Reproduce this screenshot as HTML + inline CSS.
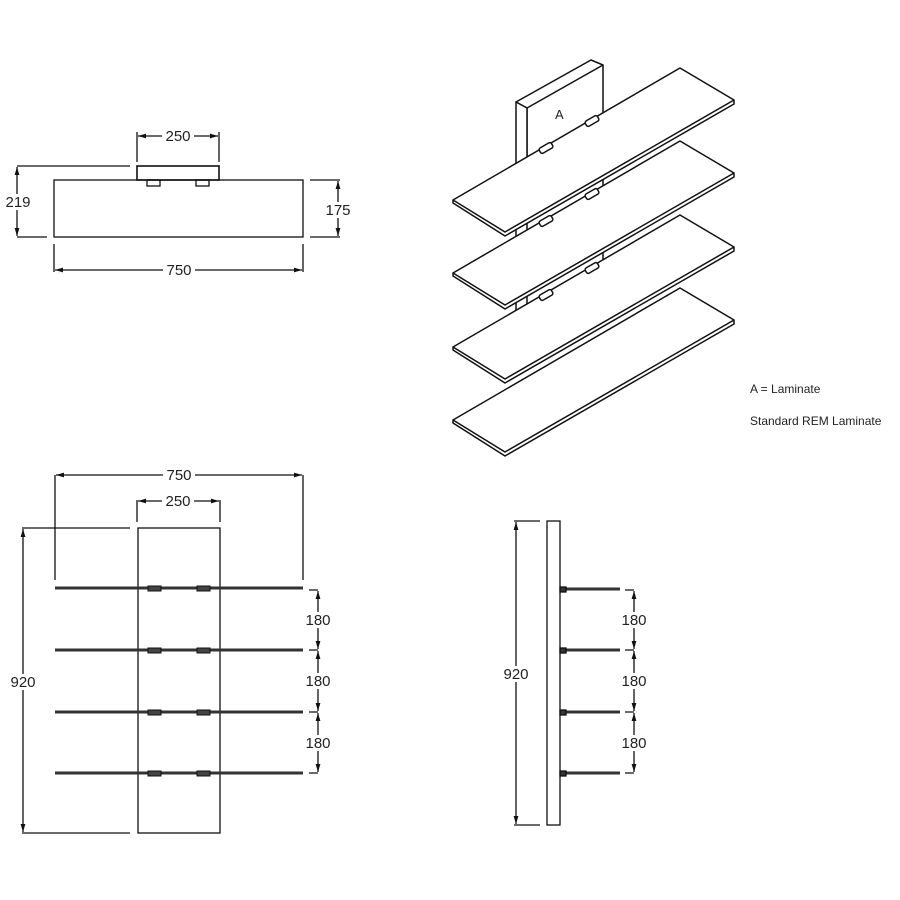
<!DOCTYPE html>
<html><head><meta charset="utf-8"><style>
html,body{margin:0;padding:0;background:#fff;}
svg{display:block;}
text{font-family:"Liberation Sans",sans-serif;fill:#222;}
</style></head><body>
<svg width="900" height="900" viewBox="0 0 900 900" xmlns="http://www.w3.org/2000/svg">
<defs>
<marker id="a" viewBox="0 0 10 6" refX="10" refY="3" markerWidth="8" markerHeight="5" orient="auto-start-reverse" markerUnits="userSpaceOnUse"><path d="M0,0 L10,3 L0,6z" fill="#111"/></marker>
<g id="br">
<rect x="539" y="145" width="14" height="6" rx="2" transform="rotate(-30 546 148)"/>
<rect x="585" y="118" width="14" height="6" rx="2" transform="rotate(-30 592 121)"/>
</g>
<path id="sh" d="M453,200 L505,232 L734,100 L680,68 Z M453,200 L453,203 L505,236 L734,104 L734,100"/>
</defs>
<g stroke="#111" stroke-width="1.3" fill="none">
<!-- TOP VIEW -->
<rect x="54" y="180" width="249" height="57"/>
<rect x="137" y="166" width="82" height="14" stroke-width="1.6"/>
<rect x="147" y="180" width="13" height="6"/>
<rect x="196" y="180" width="13" height="6"/>
<line x1="137" y1="132" x2="137" y2="162"/><line x1="219" y1="132" x2="219" y2="162"/>
<line x1="138" y1="136" x2="218" y2="136" marker-start="url(#a)" marker-end="url(#a)"/>
<line x1="17" y1="166" x2="130" y2="166"/><line x1="17" y1="237" x2="47" y2="237"/>
<line x1="17" y1="167" x2="17" y2="236" marker-start="url(#a)" marker-end="url(#a)"/>
<line x1="310" y1="180" x2="340" y2="180"/><line x1="310" y1="237" x2="340" y2="237"/>
<line x1="338" y1="181" x2="338" y2="236" marker-start="url(#a)" marker-end="url(#a)"/>
<line x1="54" y1="244" x2="54" y2="272"/><line x1="303" y1="244" x2="303" y2="272"/>
<line x1="55" y1="270" x2="302" y2="270" marker-start="url(#a)" marker-end="url(#a)"/>

<!-- FRONT VIEW -->
<rect x="138" y="528" width="82" height="305"/>
<line x1="55" y1="475" x2="55" y2="580"/><line x1="303" y1="475" x2="303" y2="580"/>
<line x1="56" y1="475" x2="302" y2="475" marker-start="url(#a)" marker-end="url(#a)"/>
<line x1="137" y1="500" x2="137" y2="522"/><line x1="220" y1="500" x2="220" y2="522"/>
<line x1="138" y1="501" x2="219" y2="501" marker-start="url(#a)" marker-end="url(#a)"/>
<line x1="22" y1="528" x2="130" y2="528"/><line x1="22" y1="833" x2="130" y2="833"/>
<line x1="23" y1="529" x2="23" y2="832" marker-start="url(#a)" marker-end="url(#a)"/>
<g stroke-width="3" stroke="#333">
<line x1="55" y1="588" x2="303" y2="588"/><line x1="55" y1="650" x2="303" y2="650"/>
<line x1="55" y1="712" x2="303" y2="712"/><line x1="55" y1="773" x2="303" y2="773"/>
</g>
<g stroke-width="1" fill="#444">
<rect x="148" y="586" width="13" height="5"/><rect x="197" y="586" width="13" height="5"/>
<rect x="148" y="648" width="13" height="5"/><rect x="197" y="648" width="13" height="5"/>
<rect x="148" y="710" width="13" height="5"/><rect x="197" y="710" width="13" height="5"/>
<rect x="148" y="771" width="13" height="5"/><rect x="197" y="771" width="13" height="5"/>
</g>
<path d="M309,590 H318 M309,650 H318 M309,712 H318 M309,773 H318"/>
<line x1="318" y1="591" x2="318" y2="649" marker-start="url(#a)" marker-end="url(#a)"/>
<line x1="318" y1="651" x2="318" y2="711" marker-start="url(#a)" marker-end="url(#a)"/>
<line x1="318" y1="713" x2="318" y2="772" marker-start="url(#a)" marker-end="url(#a)"/>

<!-- SIDE VIEW -->
<rect x="547" y="521" width="13" height="304"/>
<line x1="514" y1="521" x2="540" y2="521"/><line x1="514" y1="825" x2="540" y2="825"/>
<line x1="516" y1="522" x2="516" y2="824" marker-start="url(#a)" marker-end="url(#a)"/>
<g stroke-width="3" stroke="#333">
<line x1="560" y1="589" x2="620" y2="589"/><line x1="560" y1="650" x2="620" y2="650"/>
<line x1="560" y1="712" x2="620" y2="712"/><line x1="560" y1="773" x2="620" y2="773"/>
</g>
<g fill="#333"><rect x="560" y="587" width="6" height="5"/><rect x="560" y="648" width="6" height="5"/><rect x="560" y="710" width="6" height="5"/><rect x="560" y="771" width="6" height="5"/></g>
<path d="M625,590 H634 M625,650 H634 M625,712 H634 M625,773 H634"/>
<line x1="634" y1="591" x2="634" y2="649" marker-start="url(#a)" marker-end="url(#a)"/>
<line x1="634" y1="651" x2="634" y2="711" marker-start="url(#a)" marker-end="url(#a)"/>
<line x1="634" y1="713" x2="634" y2="772" marker-start="url(#a)" marker-end="url(#a)"/>
</g>

<!-- ISO VIEW -->
<g stroke="#111" stroke-width="1.5" fill="#fff" stroke-linejoin="round">
<g transform="translate(0,220)">
<use href="#sh"/>
</g>
<g transform="translate(0,147)">
<path d="M516,100 V164 M527,100 V158 M603,60 V113" fill="none"/>
<use href="#sh"/>
<use href="#br"/>
</g>
<g transform="translate(0,73)">
<path d="M516,100 V164 M527,100 V158 M603,60 V113" fill="none"/>
<use href="#sh"/>
<use href="#br"/>
</g>
<path d="M516,102 L591,60 L603,65 L603,113 L527,158 L527,108 Z"/>
<path d="M516,102 L527,108 L527,158 L516,164 Z"/>
<path d="M527,108 L603,65" fill="none"/>
<use href="#sh"/>
<use href="#br"/>
</g>
<text x="555" y="119" font-size="13">A</text>
<text x="750" y="393" font-size="12">A = Laminate</text>
<text x="750" y="425" font-size="12">Standard REM Laminate</text>

<!-- dimension labels -->
<g font-size="15" text-anchor="middle">
<rect x="162" y="128" width="32" height="16" fill="#fff"/><text x="178" y="141">250</text>
<rect x="4" y="194" width="28" height="16" fill="#fff"/><text x="18" y="207">219</text>
<rect x="323" y="202" width="32" height="16" fill="#fff"/><text x="338" y="215">175</text>
<rect x="163" y="262" width="32" height="16" fill="#fff"/><text x="179" y="275">750</text>
<rect x="163" y="467" width="32" height="16" fill="#fff"/><text x="179" y="480">750</text>
<rect x="162" y="493" width="32" height="16" fill="#fff"/><text x="178" y="506">250</text>
<rect x="7" y="674" width="32" height="16" fill="#fff"/><text x="23" y="687">920</text>
<rect x="302" y="612" width="32" height="16" fill="#fff"/><text x="318" y="625">180</text>
<rect x="302" y="673" width="32" height="16" fill="#fff"/><text x="318" y="686">180</text>
<rect x="302" y="735" width="32" height="16" fill="#fff"/><text x="318" y="748">180</text>
<rect x="500" y="666" width="32" height="16" fill="#fff"/><text x="516" y="679">920</text>
<rect x="618" y="612" width="32" height="16" fill="#fff"/><text x="634" y="625">180</text>
<rect x="618" y="673" width="32" height="16" fill="#fff"/><text x="634" y="686">180</text>
<rect x="618" y="735" width="32" height="16" fill="#fff"/><text x="634" y="748">180</text>
</g>
</svg>
</body></html>
